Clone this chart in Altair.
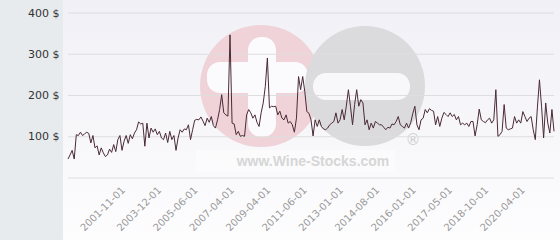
import altair as alt
import pandas as pd

# Price series (left to right)
prices = [
    46, 56, 67, 46, 105, 103, 111, 103, 107, 111, 108, 85, 103, 73, 78, 56, 73, 61, 52, 56,
    70, 62, 81, 64, 93, 103, 67, 89, 103, 84, 105, 95, 109, 117,
    136, 131, 133, 77, 133, 97, 121, 111, 119, 105, 113, 97, 93, 109, 86, 113, 93, 103, 67, 97,
    117, 111, 119, 117, 129, 93, 117, 140, 142, 141, 148, 138,
    127, 145, 135, 149, 127, 121, 141, 166, 202, 158, 153, 150, 347, 133, 131, 105, 113, 101, 103, 101,
    153, 166, 158, 145, 153, 135, 125, 158, 182, 222, 291, 170, 174, 173,
    174, 153, 162, 145, 141, 153, 133, 137, 129, 111, 145, 246, 214, 246, 210, 161, 157, 141, 102, 141,
    125, 141, 125, 119, 117, 121, 129, 133, 137, 158, 133, 141, 166, 141, 174,
    214, 174, 129, 178, 214, 174, 190, 182, 129, 141, 117, 133, 121, 137, 133, 129, 129, 123, 117, 123,
    121, 131, 129, 137, 149, 129, 125, 121, 133, 121, 134, 156, 174, 129, 117, 141, 145,
    166, 158, 168, 164, 162, 129, 149, 125, 145, 159, 154, 149, 158, 149, 154, 141, 149, 129, 133, 129,
    133, 125, 137, 137, 102, 129, 167, 141, 137, 134, 141, 145, 133, 141,
    214, 101, 105, 113, 178, 121, 117, 119, 121, 149, 133, 141, 133, 161, 149, 137, 145, 149, 117, 93,
    170, 238, 174, 97, 182, 133, 109, 166, 113,
]

tick_index = [26.5, 44, 61.5, 79, 96.5, 114, 131.5, 149, 166.5, 184, 201.5, 219]
tick_labels = ["2001-11-01", "2003-12-01", "2005-06-01", "2007-04-01", "2009-04-01",
               "2011-06-01", "2013-01-01", "2014-08-01", "2016-01-01", "2017-05-01",
               "2018-10-01", "2020-04-01"]
y_label_values = [100, 200, 300, 400]
grid_values = [0, 100, 200, 300, 400]
watermark_text = "www.Wine-Stocks.com"

W, H = 486, 165

df = pd.DataFrame({"i": list(range(len(prices))), "price": prices})
grid_df = pd.DataFrame({"price": grid_values})
one = pd.DataFrame({"a": [0]})

label_expr = "".join(
    f"datum.value == {v} ? '{t}' : " for v, t in zip(tick_index, tick_labels)
) + "''"

xscale = alt.Scale(domain=[0, len(prices) - 1], nice=False, zero=False)
yscale = alt.Scale(domain=[0, 400], nice=False)

yaxis = alt.Axis(values=y_label_values, labelExpr="datum.value + ' $'", grid=False,
                 ticks=False, domain=False, labelFontSize=11, labelColor="#333333",
                 labelFont="DejaVu Sans", labelPadding=9, title=None, zindex=1)
xaxis = alt.Axis(values=tick_index, labelExpr=label_expr, grid=False, ticks=False,
                 domain=False, labelAngle=-45, labelAlign="right", labelBaseline="middle",
                 labelFontSize=10, labelColor="#9a9a9a", labelFont="DejaVu Sans",
                 labelPadding=10, labelOverlap=False, labelBound=False, labelFlush=False,
                 title=None, zindex=1)

bg = alt.Chart(one).mark_rect(
    color=alt.LinearGradient(gradient="linear", x1=0, x2=0, y1=0, y2=1,
                             stops=[alt.GradientStop(color="#f0f0f6", offset=0),
                                    alt.GradientStop(color="#fdfdfe", offset=1)])
).encode(x=alt.value(-5), x2=alt.value(492), y=alt.value(-13), y2=alt.value(227))

pink = alt.Chart(one).mark_circle(size=14884, color="#efd3d9", opacity=1).encode(
    x=alt.value(193), y=alt.value(73))
plus_v = alt.Chart(one).mark_rect(color="#fbfbfd", cornerRadius=13).encode(
    x=alt.value(180), x2=alt.value(208), y=alt.value(24), y2=alt.value(124))
plus_h = alt.Chart(one).mark_rect(color="#fbfbfd", cornerRadius=13).encode(
    x=alt.value(139), x2=alt.value(240), y=alt.value(49), y2=alt.value(80))
gray = alt.Chart(one).mark_circle(size=14400, color="#dbdbdd", opacity=1).encode(
    x=alt.value(297), y=alt.value(73))
minus = alt.Chart(one).mark_rect(color="#f8f8fa", cornerRadius=13).encode(
    x=alt.value(245), x2=alt.value(342), y=alt.value(60), y2=alt.value(87))
textbox = alt.Chart(one).mark_rect(color="#fbfbfc", opacity=0.8).encode(
    x=alt.value(128), x2=alt.value(327), y=alt.value(137), y2=alt.value(159))
wtext = alt.Chart(one).mark_text(text=watermark_text, font="Liberation Sans", fontWeight="bold",
                                 fontSize=14, color="#d6d6d6").encode(
    x=alt.value(245), y=alt.value(149))
reg = alt.Chart(one).mark_text(text="®", font="DejaVu Sans", fontSize=15,
                               color="#cfcfd1").encode(x=alt.value(345), y=alt.value(127))

grid = alt.Chart(grid_df).mark_rule(color="#dedede", strokeWidth=1).encode(
    y=alt.Y("price:Q", scale=yscale, axis=yaxis))

line = alt.Chart(df).mark_line(color="#4a2a36", strokeWidth=1).encode(
    x=alt.X("i:Q", scale=xscale, axis=xaxis),
    y=alt.Y("price:Q", scale=yscale, axis=yaxis),
)

chart = alt.layer(bg, pink, plus_v, plus_h, gray, minus, textbox, wtext, reg, grid, line).properties(
    width=W, height=H,
    padding={"left": 68, "top": 13, "right": 6, "bottom": 62},
    autosize="none",
    background="#e7ebee",
).configure_view(stroke=None)

chart.save("out.html", embed_options={"renderer": "svg", "actions": False})
